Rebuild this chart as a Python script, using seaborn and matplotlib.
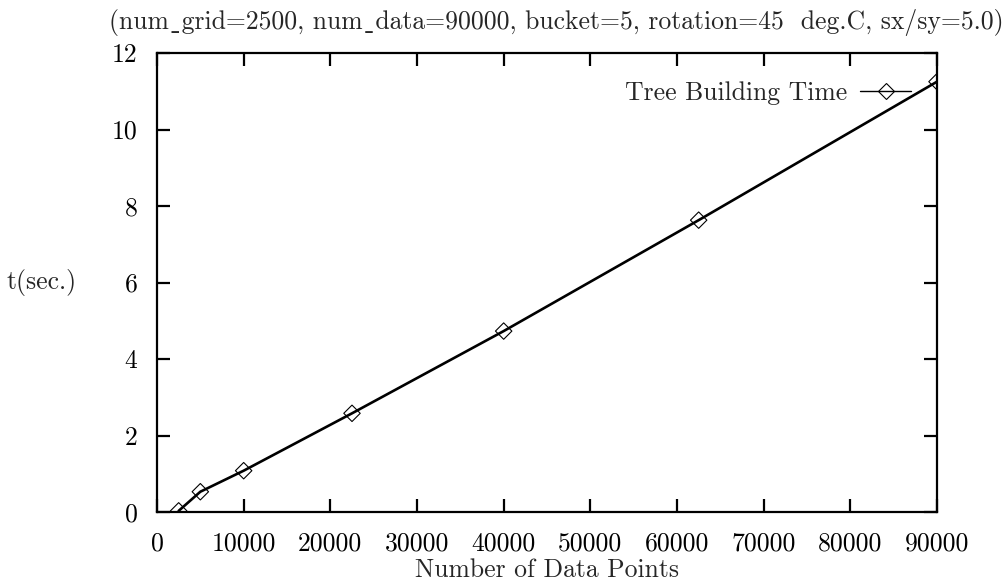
import numpy as np
import pandas as pd
import matplotlib
matplotlib.use("Agg")
import matplotlib.pyplot as plt
from matplotlib.lines import Line2D
import seaborn as sns

# Data
num_points = [2500, 5000, 10000, 22500, 40000, 62500, 90000]
build_time = [0.03, 0.53, 1.08, 2.58, 4.73, 7.63, 11.25]
x_ticks = [0, 10000, 20000, 30000, 40000, 50000, 60000, 70000, 80000, 90000]
y_ticks = [0, 2, 4, 6, 8, 10, 12]

US = "\u02CD"  # low line glyph (falls back to DejaVu Serif)
title = f"(num{US}grid=2500, num{US}data=90000, bucket=5, rotation=45  deg.C, sx/sy=5.0)"
series_name = "Tree Building Time"

sns.set_theme(style="ticks")
plt.rcParams["font.family"] = ["cmr10", "DejaVu Serif"]
plt.rcParams["axes.formatter.use_mathtext"] = True
plt.rcParams["mathtext.fontset"] = "cm"

df = pd.DataFrame({"n": num_points, "t": build_time})

fig = plt.figure(figsize=(10.04, 5.83), dpi=100)
ax = fig.add_axes([157 / 1004, 1 - 512 / 583, 780 / 1004, 459 / 583])

sns.lineplot(data=df, x="n", y="t", ax=ax, color="black", lw=1.9, legend=False)
sns.scatterplot(data=df, x="n", y="t", ax=ax, marker="D", s=70,
                facecolors="none", edgecolor="black", linewidth=0.8, legend=False)

ax.set_xlim(0, 90000)
ax.set_ylim(0, 12)
ax.set_xticks(x_ticks)
ax.set_yticks(y_ticks)
ax.set_xticklabels([str(v) for v in x_ticks])
ax.set_yticklabels([str(v) for v in y_ticks])

fs = 18.5
ax.tick_params(axis="both", which="major", direction="in", length=9.5, width=1.6,
               top=True, right=True, labelsize=fs, pad=14, colors="black")
for sp in ax.spines.values():
    sp.set_visible(True)
    sp.set_linewidth(1.6)
    sp.set_color("black")

ax.set_xlabel("Number of Data Points", fontsize=fs, va="center")
ax.xaxis.set_label_coords(0.5, (512 - 570) / 459)
ax.set_ylabel("t(sec.)", fontsize=fs, rotation=0, ha="center", va="center")
ax.yaxis.set_label_coords((42 - 157) / 780, 0.5)

fig.text(556 / 1004, 1 - 22 / 583, title, fontsize=fs, ha="center", va="center")

handle = Line2D([], [], color="black", lw=1.0, marker="D", markersize=8.4,
                markerfacecolor="none", markeredgecolor="black", markeredgewidth=0.8)
ax.legend([handle], [series_name], loc="center right", bbox_to_anchor=(0.967, 0.9135),
          frameon=False, markerfirst=False, fontsize=fs, handlelength=2.0,
          handletextpad=0.5, borderpad=0, borderaxespad=0)

ax.grid(False)
ax.set_facecolor("white")
fig.patch.set_facecolor("white")
fig.savefig("out.png", dpi=100)
